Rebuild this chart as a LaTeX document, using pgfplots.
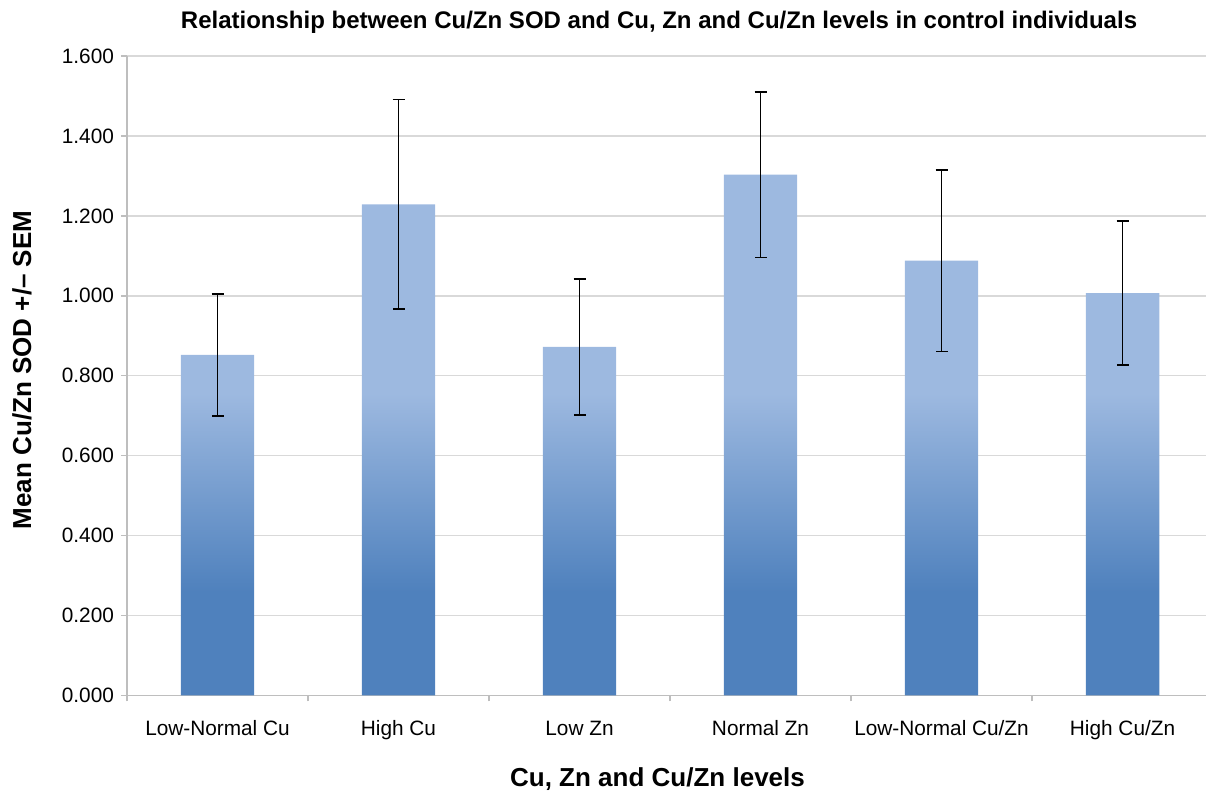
\documentclass[border=0pt]{standalone}
\usepackage{pgfplots}
\pgfplotsset{compat=1.18}
\usepackage{fontspec}
\setmainfont{Liberation Sans}
\definecolor{bardark}{RGB}{79,129,189}
\definecolor{barlight}{RGB}{157,185,224}
\definecolor{gridc}{RGB}{217,217,217}
\definecolor{axc}{RGB}{190,190,190}
\pgfdeclareverticalshading{barshade}{100bp}{color(0bp)=(bardark); color(35bp)=(bardark); color(54bp)=(barlight); color(100bp)=(barlight)}
\begin{document}
\begin{tikzpicture}
\begin{axis}[
  at={(63.5pt,48.25pt)}, anchor=south west,
  scale only axis, width=539.5pt, height=319.75pt,
  xmin=-0.5, xmax=5.461, ymin=0, ymax=1.6,
  axis x line*=bottom, axis y line*=left,
  axis line style={draw=axc, line width=0.75pt, -},
  xtick={0,1,2,3,4,5},
  xticklabels={Low-Normal Cu, High Cu, Low Zn, Normal Zn, Low-Normal Cu/Zn, High Cu/Zn},
  minor xtick={-0.5,0.5,1.5,2.5,3.5,4.5},
  ytick={0,0.2,...,1.61},
  tick align=outside,
  major tick length=3pt, minor tick length=3pt,
  major x tick style={draw=none},
  minor x tick style={draw=axc, line width=0.75pt},
  major y tick style={draw=axc, line width=0.75pt},
  ymajorgrids, grid style={draw=gridc, line width=0.75pt},
  /pgf/number format/assume math mode=true,
  yticklabel style={/pgf/number format/.cd, fixed, fixed zerofill, precision=3},
  ticklabel style={font=\fontsize{10.4}{12}\selectfont, text=black},
  xticklabel style={yshift=-6pt, text height=7.6pt, text depth=2.2pt},
]
\addplot[ybar, bar width=36.7pt, draw=none, shading=barshade,
  error bars/.cd, y dir=both, y explicit,
  error bar style={black, line width=0.8pt},
  error mark options={rotate=90, mark size=3pt, line width=0.8pt, black}]
  table[x=x, y=y, y error=err]{
x y err
0 0.852 0.152
1 1.229 0.262
2 0.872 0.170
3 1.303 0.207
4 1.088 0.227
5 1.007 0.180
};
\end{axis}
\node[font=\fontsize{12}{14}\selectfont\bfseries] at (329.5pt,385pt) {Relationship between Cu/Zn SOD and Cu, Zn and Cu/Zn levels in control individuals};
\node[font=\fontsize{13}{15}\selectfont\bfseries] at (328.75pt,6.5pt) {Cu, Zn and Cu/Zn levels};
\node[font=\fontsize{13}{15}\selectfont\bfseries, rotate=90] at (11pt,211pt) {Mean Cu/Zn SOD +/– SEM};
\pgfresetboundingbox
\path[use as bounding box] (0,0) rectangle (603pt,396pt);
\end{tikzpicture}
\end{document}
